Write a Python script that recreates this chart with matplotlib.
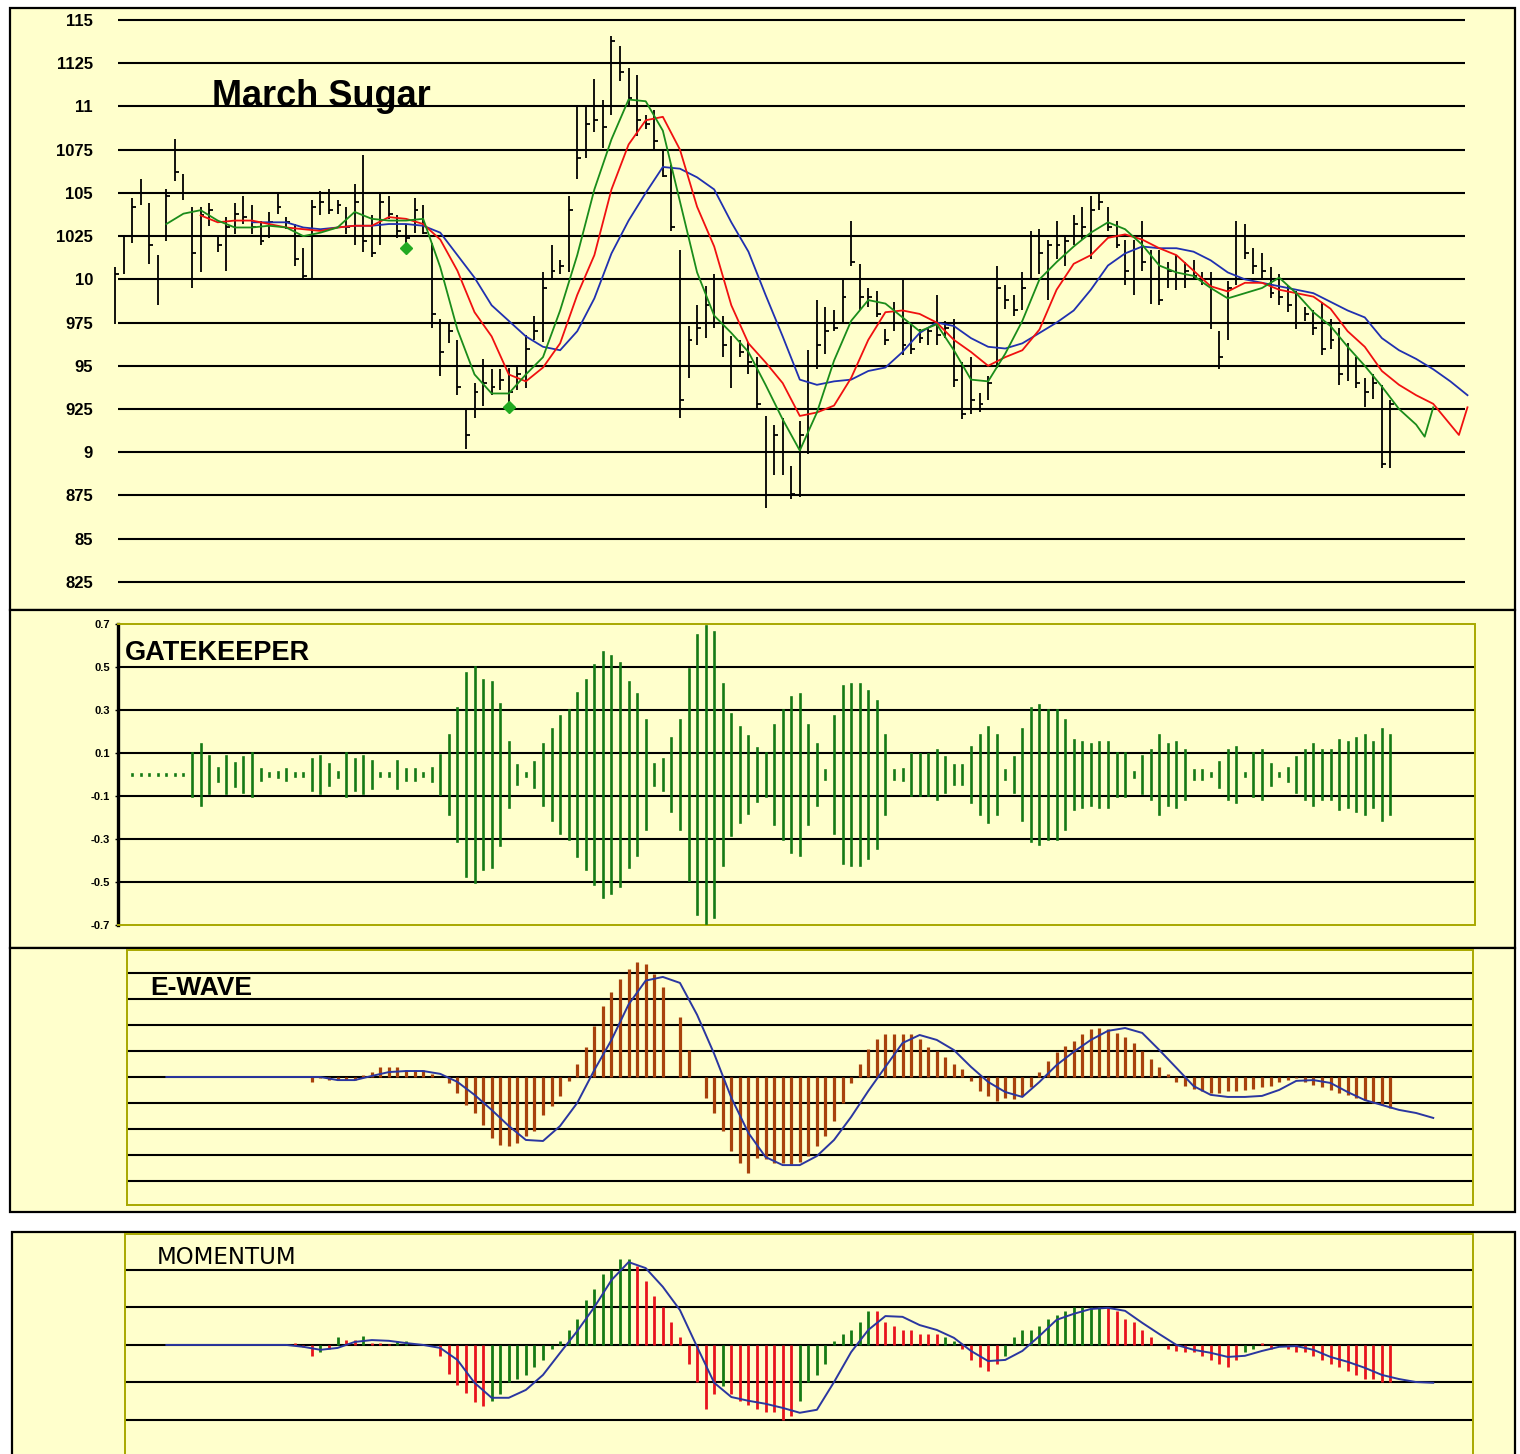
import numpy as np
import matplotlib
matplotlib.use("Agg")
import matplotlib.pyplot as plt
from matplotlib.patches import Rectangle

nan = np.nan

# ---------------- data ----------------
price_levels = [11.5, 11.25, 11.0, 10.75, 10.5, 10.25, 10.0, 9.75, 9.5, 9.25, 9.0, 8.75, 8.5, 8.25]
price_labels = ["115", "1125", "11", "1075", "105", "1025", "10", "975", "95", "925", "9", "875", "85", "825"]

high = [10.07, 10.25, 10.47, 10.58, 10.44, 10.14, 10.52, 10.81, 10.61, 10.42,
        10.42, 10.44, 10.25, 10.36, 10.44, 10.48, 10.43, 10.34, 10.39, 10.50,
        10.36, 10.32, 10.18, 10.46, 10.51, 10.52, 10.46, 10.42, 10.55, 10.72,
        10.37, 10.50, 10.48, 10.37, 10.32, 10.47, 10.43, 10.21, 9.77, 9.75,
        9.65, 9.25, 9.40, 9.54, 9.48, 9.48, 9.49, 9.50, 9.68, 9.79,
        10.04, 10.20, 10.11, 10.48, 11.00, 11.00, 11.16, 11.04, 11.41, 11.35,
        11.22, 11.18, 10.95, 10.98, 10.74, 10.66, 10.17, 9.73, 9.85, 9.96,
        10.03, 9.79, 9.67, 9.65, 9.64, 9.55, 9.21, 9.16, 9.20, 8.92,
        9.18, 9.59, 9.88, 9.84, 9.82, 10.00, 10.34, 10.09, 9.95, 9.93,
        9.71, 9.87, 10.00, 9.74, 9.71, 9.72, 9.91, 9.76, 9.77, 9.52,
        9.55, 9.34, 9.44, 10.08, 9.97, 9.91, 10.04, 10.28, 10.29, 10.23,
        10.34, 10.25, 10.37, 10.42, 10.48, 10.50, 10.42, 10.34, 10.23, 10.23,
        10.34, 10.17, 10.17, 10.10, 10.14, 10.10, 10.11, 10.04, 10.04, 9.70,
        9.99, 10.34, 10.32, 10.18, 10.15, 10.07, 10.03, 9.96, 9.93, 9.84,
        9.82, 9.87, 9.77, 9.72, 9.63, 9.55, 9.43, 9.45, 9.39, 9.30]
low = [9.74, 10.03, 10.21, 10.43, 10.09, 9.85, 10.22, 10.57, 10.46, 9.95,
       10.04, 10.31, 10.16, 10.05, 10.26, 10.32, 10.26, 10.20, 10.24, 10.38,
       10.29, 10.08, 10.01, 10.00, 10.37, 10.38, 10.38, 10.26, 10.20, 10.16,
       10.13, 10.20, 10.35, 10.24, 10.20, 10.27, 10.26, 9.72, 9.44, 9.63,
       9.33, 9.02, 9.20, 9.27, 9.33, 9.36, 9.29, 9.36, 9.37, 9.65,
       9.64, 10.00, 10.03, 10.04, 10.58, 10.70, 10.85, 10.76, 10.95, 11.15,
       11.00, 10.83, 10.87, 10.74, 10.59, 10.28, 9.20, 9.43, 9.62, 9.66,
       9.72, 9.55, 9.37, 9.55, 9.45, 9.25, 8.68, 8.87, 8.87, 8.73,
       8.74, 8.99, 9.48, 9.57, 9.70, 9.74, 10.08, 9.82, 9.84, 9.78,
       9.62, 9.70, 9.56, 9.57, 9.63, 9.62, 9.62, 9.66, 9.38, 9.19,
       9.22, 9.23, 9.30, 9.49, 9.83, 9.79, 9.82, 10.00, 10.03, 9.88,
       10.12, 10.08, 10.20, 10.23, 10.12, 10.40, 10.28, 10.18, 9.97, 9.91,
       10.05, 9.86, 9.85, 9.95, 9.94, 9.95, 10.00, 9.97, 9.71, 9.48,
       9.65, 9.97, 10.12, 10.03, 10.01, 9.89, 9.85, 9.81, 9.71, 9.76,
       9.68, 9.56, 9.60, 9.39, 9.41, 9.37, 9.26, 9.31, 8.91, 8.91]
close = [10.03, 10.25, 10.42, 10.50, 10.20, 10.00, 10.48, 10.62, 10.50, 10.15,
         10.37, 10.40, 10.20, 10.30, 10.38, 10.36, 10.30, 10.22, 10.33, 10.42,
         10.33, 10.12, 10.02, 10.42, 10.45, 10.40, 10.43, 10.30, 10.45, 10.22,
         10.15, 10.45, 10.38, 10.28, 10.24, 10.40, 10.27, 9.80, 9.58, 9.70,
         9.38, 9.10, 9.35, 9.40, 9.38, 9.42, 9.35, 9.45, 9.60, 9.70,
         9.95, 10.05, 10.08, 10.40, 10.70, 10.90, 10.92, 10.88, 11.38, 11.20,
         11.05, 10.92, 10.90, 10.80, 10.60, 10.30, 9.30, 9.65, 9.72, 9.85,
         9.75, 9.62, 9.50, 9.58, 9.52, 9.28, 8.75, 9.10, 9.00, 8.76,
         9.10, 9.50, 9.62, 9.70, 9.72, 9.90, 10.10, 9.90, 9.90, 9.80,
         9.65, 9.75, 9.62, 9.60, 9.66, 9.70, 9.68, 9.72, 9.42, 9.22,
         9.30, 9.28, 9.40, 9.95, 9.88, 9.82, 9.95, 10.25, 10.15, 10.20,
         10.20, 10.22, 10.32, 10.30, 10.40, 10.45, 10.30, 10.20, 10.05, 10.00,
         10.10, 10.00, 9.88, 10.05, 10.00, 10.05, 10.02, 10.00, 9.75, 9.55,
         9.95, 10.25, 10.15, 10.08, 10.05, 9.92, 9.90, 9.85, 9.75, 9.80,
         9.72, 9.60, 9.65, 9.45, 9.50, 9.40, 9.35, 9.40, 8.93, 9.28]

green_idx = list(range(6, 153, 2)) + [153, 154]
green_ma = [10.32, 10.38, 10.40, 10.34, 10.30, 10.30, 10.31, 10.30, 10.25, 10.27,
            10.30, 10.39, 10.35, 10.34, 10.34, 10.35, 10.07, 9.71, 9.45, 9.34,
            9.34, 9.45, 9.55, 9.82, 10.14, 10.52, 10.81, 11.04, 11.03, 10.86,
            10.45, 10.04, 9.79, 9.69, 9.58, 9.39, 9.19, 9.01, 9.23, 9.53,
            9.76, 9.88, 9.86, 9.78, 9.70, 9.74, 9.59, 9.42, 9.41, 9.57,
            9.76, 10.00, 10.10, 10.19, 10.27, 10.33, 10.29, 10.20, 10.08, 10.04,
            10.02, 9.95, 9.89, 9.92, 9.95, 10.01, 9.92, 9.81, 9.73, 9.61,
            9.50, 9.38, 9.25, 9.16, 9.09, 9.26]
red_idx = list(range(10, 157, 2)) + [157, 158]
red_ma = [10.37, 10.33, 10.34, 10.34, 10.32, 10.30, 10.29, 10.28, 10.30, 10.31,
          10.31, 10.36, 10.35, 10.32, 10.23, 10.05, 9.81, 9.67, 9.45, 9.41,
          9.49, 9.63, 9.91, 10.14, 10.52, 10.78, 10.92, 10.94, 10.75, 10.42,
          10.19, 9.85, 9.63, 9.52, 9.40, 9.21, 9.23, 9.27, 9.43, 9.65,
          9.81, 9.82, 9.80, 9.75, 9.65, 9.58, 9.50, 9.55, 9.59, 9.71,
          9.94, 10.09, 10.14, 10.24, 10.26, 10.23, 10.18, 10.14, 10.05, 9.96,
          9.93, 9.98, 9.98, 9.94, 9.92, 9.90, 9.83, 9.70, 9.61, 9.47,
          9.39, 9.33, 9.28, 9.16, 9.10, 9.26]
blue_idx = list(range(16, 159, 2))
blue_ma = [10.33, 10.33, 10.33, 10.30, 10.29, 10.30, 10.31, 10.31, 10.32, 10.32,
           10.31, 10.27, 10.14, 10.01, 9.85, 9.76, 9.67, 9.61, 9.59, 9.70,
           9.89, 10.15, 10.34, 10.50, 10.65, 10.64, 10.59, 10.52, 10.33, 10.16,
           9.91, 9.67, 9.42, 9.39, 9.41, 9.42, 9.47, 9.49, 9.58, 9.69,
           9.75, 9.73, 9.66, 9.61, 9.60, 9.63, 9.69, 9.75, 9.82, 9.94,
           10.08, 10.15, 10.19, 10.18, 10.18, 10.16, 10.11, 10.04, 10.00, 9.98,
           9.96, 9.94, 9.92, 9.87, 9.82, 9.78, 9.66, 9.59, 9.54, 9.48,
           9.41, 9.33]
signal_idx = [34, 46]
signal_price = [10.18, 9.26]

gate_levels = [0.7, 0.5, 0.3, 0.1, -0.1, -0.3, -0.5, -0.7]
gate_labels = ["0.7", "0.5", "0.3", "0.1", "-0.1", "-0.3", "-0.5", "-0.7"]
gate = [nan, nan, 0.004, 0.004, 0.004, 0.004, 0.004, 0.004, 0.004,
        0.10, 0.14, 0.086, 0.03, 0.086, 0.055, 0.08, 0.10, 0.024, 0.005,
        0.01, 0.024, 0.005, 0.005, 0.07, 0.086, 0.047, 0.013, 0.10, 0.07,
        0.086, 0.063, 0.005, 0.005, 0.063, 0.024, 0.024, 0.005, 0.03,
        0.09, 0.185, 0.31, 0.47, 0.50, 0.44, 0.43, 0.33, 0.15, 0.045,
        0.005, 0.058, 0.14, 0.21, 0.27, 0.30, 0.38, 0.44, 0.51, 0.57,
        0.55, 0.52, 0.43, 0.375, 0.255, 0.048, 0.07, 0.17, 0.255, 0.49,
        0.65, 0.69, 0.665, 0.42, 0.28, 0.22, 0.18, 0.125, 0.10, 0.23,
        0.30, 0.36, 0.375, 0.23, 0.14, 0.02, 0.27, 0.41, 0.42, 0.42,
        0.39, 0.34, 0.185, 0.02, 0.026, 0.095, 0.095, 0.095,
        0.115, 0.08, 0.045, 0.042, 0.126, 0.185, 0.22, 0.185, 0.022, 0.08,
        0.21, 0.31, 0.325, 0.30, 0.30, 0.255, 0.16, 0.15, 0.14, 0.15,
        0.15, 0.10, 0.10, 0.01, 0.085, 0.115, 0.185, 0.14, 0.15, 0.115,
        0.022, 0.022, 0.005, 0.058, 0.115, 0.126, 0.005, 0.10, 0.115, 0.048,
        0.005, 0.03, 0.08, 0.115, 0.14, 0.115, 0.115, 0.16, 0.15, 0.17,
        0.185, 0.15, 0.21, 0.185]

ewave = ([nan] * 23 +
         [-0.18, -0.05, -0.12, -0.12, -0.12, -0.10, 0.09, 0.18, 0.39, 0.39,      # 23..32
          0.39, 0.26, 0.26, 0.26, 0.10, nan, -0.24, -0.63, -1.09, -1.40,        # 33..42
          -1.87, -2.34, -2.64, -2.66, -2.54, -2.28, -2.08, -1.48, -1.12, -0.73,  # 43..52
          -0.15, 0.49, 1.16, 1.97, 2.72, 3.28, 3.77, 4.16, 4.44, 4.35,          # 53..62
          3.96, 3.49, nan, 2.33, 1.04, nan, -0.80, -1.38, -2.08, -2.86,         # 63..72
          -3.31, -3.69, -3.11, -3.15, -3.31, -3.31, -3.37, -3.28, -3.05, -2.66, # 73..82
          -2.28, -1.70, -0.99, -0.24, 0.49, 1.07, 1.45, 1.65, 1.65, 1.65,       # 83..92
          1.65, 1.45, 1.17, 1.00, 0.79, 0.49, 0.30, -0.15, -0.54, -0.73,        # 93..102
          -0.93, -0.80, -0.86, -0.73, -0.40, 0.20, 0.60, 0.95, 1.20, 1.40,      # 103..112
          1.65, 1.85, 1.90, 1.85, 1.70, 1.55, 1.30, 1.00, 0.70, 0.40,           # 113..122
          0.10, -0.20, -0.35, -0.45, -0.55, -0.60, -0.60, -0.55, -0.55, -0.50,  # 123..132
          -0.45, -0.40, -0.35, -0.20, -0.10, -0.05, -0.20, -0.30, -0.40, -0.50, # 133..142
          -0.60, -0.70, -0.80, -0.90, -1.00, -1.10, -1.20])                     # 143..149
ewave_line_idx = list(range(6, 155, 2))
ewave_line = [0, 0, 0, 0, 0, 0, 0, 0, 0, 0,
              -0.12, -0.12, 0.04, 0.19, 0.23, 0.23, 0.12, -0.19, -0.69, -1.27,
              -1.89, -2.43, -2.47, -1.89, -1.00, 0.27, 1.43, 2.80, 3.72, 3.86,
              3.63, 2.40, 0.89, -0.80, -2.16, -3.09, -3.40, -3.40, -3.05, -2.43,
              -1.54, -0.54, 0.39, 1.31, 1.62, 1.43, 1.04, 0.39, -0.19, -0.58,
              -0.77, -0.19, 0.46, 0.97, 1.43, 1.78, 1.89, 1.70, 1.04, 0.35,
              -0.35, -0.69, -0.77, -0.77, -0.73, -0.50, -0.15, -0.12, -0.23, -0.58,
              -0.89, -1.08, -1.27, -1.39, -1.58]

mom = ([nan] * 21 +
       [0.05, -0.05, -0.29, -0.20, -0.10, 0.22, 0.13, 0.13, 0.25, 0.05,       # 21..30
        0.05, 0.03, 0.10, 0.10, nan, nan, nan, -0.30, -0.77, -1.08,           # 31..40
        -1.29, -1.51, -1.62, -1.50, -1.30, -1.00, -0.90, -0.80, -0.60, -0.40, # 41..50
        -0.10, 0.10, 0.40, 0.70, 1.20, 1.50, 1.90, 2.00, 2.30, 2.30,          # 51..60
        2.10, 1.70, 1.30, 1.00, 0.60, 0.20, -0.50, -1.00, -1.70, -1.30,       # 61..70
        -1.10, -1.30, -1.50, -1.60, -1.70, -1.80, -1.80, -2.00, -1.90, -1.50, # 71..80
        -1.00, -0.80, -0.50, 0.10, 0.30, 0.40, 0.60, 0.90, 0.90, 0.60,        # 81..90
        0.50, 0.40, 0.40, 0.30, 0.30, 0.30, 0.20, 0.10, -0.10, -0.40,         # 91..100
        -0.60, -0.70, -0.50, -0.30, 0.20, 0.40, 0.40, 0.50, 0.70, 0.80,       # 101..110
        0.90, 1.00, 1.00, 1.00, 1.00, 1.00, 0.90, 0.70, 0.60, 0.40,           # 111..120
        0.20, nan, -0.10, -0.15, -0.20, -0.20, -0.30, -0.40, -0.50, -0.60,    # 121..130
        -0.40, -0.20, -0.10, 0.05, -0.10, nan, -0.10, -0.20, -0.20, -0.30,    # 131..140
        -0.40, -0.50, -0.60, -0.70, -0.80, -0.90, -0.90, -1.00, -1.00])       # 141..149
mom_dir = ("." * 21 +
           "rrrgrgrrgr" "rrgg...rrr"
           "rrrggggggg" "gggggggggg"
           "rrrrrrrrrr" "grrrrrrrrg"
           "ggggggggrr" "rrrrrrggrr"
           "rrrggggggg" "gggggrrrrr"
           "r.rrrrrrrr" "rggr.rrrrr"
           "rrrrrrrrr")
mom_line_idx = list(range(6, 155, 2))
mom_line = [0, 0, 0, 0, 0, 0, 0, 0, -0.05, -0.13,
            -0.08, 0.08, 0.13, 0.11, 0.05, 0, -0.08, -0.40, -1.01, -1.41,
            -1.41, -1.20, -0.80, -0.21, 0.37, 1.01, 1.73, 2.21, 2.05, 1.55,
            0.93, -0.05, -1.01, -1.39, -1.49, -1.57, -1.68, -1.81, -1.73, -0.99,
            -0.19, 0.40, 0.77, 0.75, 0.53, 0.40, 0.19, -0.16, -0.43, -0.40,
            -0.16, 0.24, 0.67, 0.83, 0.96, 0.99, 0.91, 0.59, 0.29, 0.00,
            -0.13, -0.21, -0.32, -0.29, -0.16, -0.05, -0.03, -0.13, -0.32, -0.45,
            -0.61, -0.80, -0.91, -0.99, -1.01]

# ---------------- layout / style ----------------
W, H = 1520, 1454
BG = "#FFFFCC"
OLIVE = "#A8A800"
GREEN = "#157A15"
RED = "#E8141C"
BROWN = "#A8420C"
NAVY = "#2A36A0"
X0, DX = 115.0, 8.56     # pixel of bar 0, pixels per bar
FONT = "Liberation Sans"

fig = plt.figure(figsize=(W / 100, H / 100), dpi=100)
fig.patch.set_facecolor("white")

for (L, T, R, B) in [(10, 8, 1515, 610), (10, 610, 1515, 948),
                     (10, 948, 1515, 1212), (12, 1232, 1515, 1480)]:
    fig.patches.append(Rectangle((L / W, 1 - B / H), (R - L) / W, (B - T) / H,
                                 transform=fig.transFigure, facecolor=BG,
                                 edgecolor="black", lw=1.6, zorder=-5))


def make_ax(L, T, R, B, ytop, ybot):
    ax = fig.add_axes([L / W, 1 - B / H, (R - L) / W, (B - T) / H])
    ax.set_xlim((L - X0) / DX, (R - X0) / DX)
    ax.set_ylim(ybot, ytop)
    ax.patch.set_alpha(0)
    ax.set_xticks([])
    ax.set_zorder(2)
    return ax


def olive_spines(ax, sides):
    for s, sp in ax.spines.items():
        if s in sides:
            sp.set_color(OLIVE)
            sp.set_linestyle((0, (1, 1)))
            sp.set_linewidth(1.4)
        else:
            sp.set_visible(False)


# ---- price panel ----
ax = make_ax(100, 10, 1500, 600, 11.5 + 10 / 172.9, 11.5 - 580 / 172.9)
for sp in ax.spines.values():
    sp.set_visible(False)
ax.hlines(price_levels, (118 - X0) / DX, (1465 - X0) / DX, colors="black", lw=1.5, zorder=1)
ax.set_yticks(price_levels, price_labels)
ax.tick_params(axis="y", length=0, pad=5, labelsize=12)
for t in ax.get_yticklabels():
    t.set_fontweight("bold")
    t.set_fontfamily(FONT)
idx = np.arange(len(high))
ax.vlines(idx, low, high, colors="black", lw=1.3, zorder=3)
ax.hlines(close, idx, idx + 0.45, colors="black", lw=1.3, zorder=3)
ax.plot(blue_idx, blue_ma, color="#2030B0", lw=1.3, zorder=4)
ax.plot(red_idx, red_ma, color="#F01010", lw=1.3, zorder=5)
ax.plot(green_idx, green_ma, color="#1A8C1A", lw=1.3, zorder=6)
ax.plot(signal_idx, signal_price, ls="none", marker="D", ms=6, color="#22AA22", zorder=7)
fig.text(212 / W, 1 - 97 / H, "March Sugar", fontsize=26, fontweight="bold",
         family=FONT, ha="left", va="center", zorder=10)

# ---- gatekeeper panel ----
ax = make_ax(118, 624, 1475, 925, 0.7, -0.7)
olive_spines(ax, ["top", "right", "bottom", "left"])
ax.spines["left"].set_color("black")
ax.spines["left"].set_linestyle("-")
ax.spines["left"].set_linewidth(2.4)
for v in [0.5, 0.3, 0.1, -0.1, -0.3, -0.5]:
    ax.axhline(v, color="black", lw=1.5, zorder=1)
ax.set_yticks(gate_levels, gate_labels)
ax.tick_params(axis="y", length=2, width=1, pad=4, labelsize=8)
for t in ax.get_yticklabels():
    t.set_fontweight("bold")
    t.set_fontfamily(FONT)
g = np.array(gate)
gk = np.arange(len(g))
lc = ax.vlines(gk, -g, g, colors=GREEN, lw=1.9, zorder=3)
lc.set_capstyle("projecting")
fig.text(125 / W, 1 - 653 / H, "GATEKEEPER", fontsize=19.5, fontweight="bold",
         family=FONT, ha="left", va="center", zorder=10)

# ---- e-wave panel ----
ax = make_ax(127, 950, 1473, 1205, 4.90, -4.94)
olive_spines(ax, ["top", "right", "bottom", "left"])
ax.set_yticks([])
for v in [4, 3, 2, 1, 0, -1, -2, -3, -4]:
    ax.axhline(v, color="black", lw=1.5, zorder=1)
e = np.array(ewave)
ax.vlines(np.arange(len(e)), 0, e, colors=BROWN, lw=2.3, zorder=3)
ax.plot(ewave_line_idx, ewave_line, color=NAVY, lw=1.4, zorder=4)
fig.text(150 / W, 1 - 988 / H, "E-WAVE", fontsize=19, fontweight="bold",
         family=FONT, ha="left", va="center", zorder=10)

# ---- momentum panel ----
ax = make_ax(125, 1234, 1473, 1454, 2.96, -2.91)
olive_spines(ax, ["top", "right", "left"])
ax.set_yticks([])
for v in [2, 1, 0, -1, -2]:
    ax.axhline(v, color="black", lw=1.5, zorder=1)
m = np.array(mom)
mk = np.arange(len(m))
cols = [GREEN if c == "g" else RED for c in mom_dir]
ax.vlines(mk, 0, m, colors=cols, lw=2.0, zorder=3)
ax.plot(mom_line_idx, mom_line, color=NAVY, lw=1.4, zorder=4)
fig.text(157 / W, 1 - 1258 / H, "MOMENTUM", fontsize=16.5, family="DejaVu Sans",
         ha="left", va="center", zorder=10)

fig.savefig("out.png", dpi=100, facecolor="white")
